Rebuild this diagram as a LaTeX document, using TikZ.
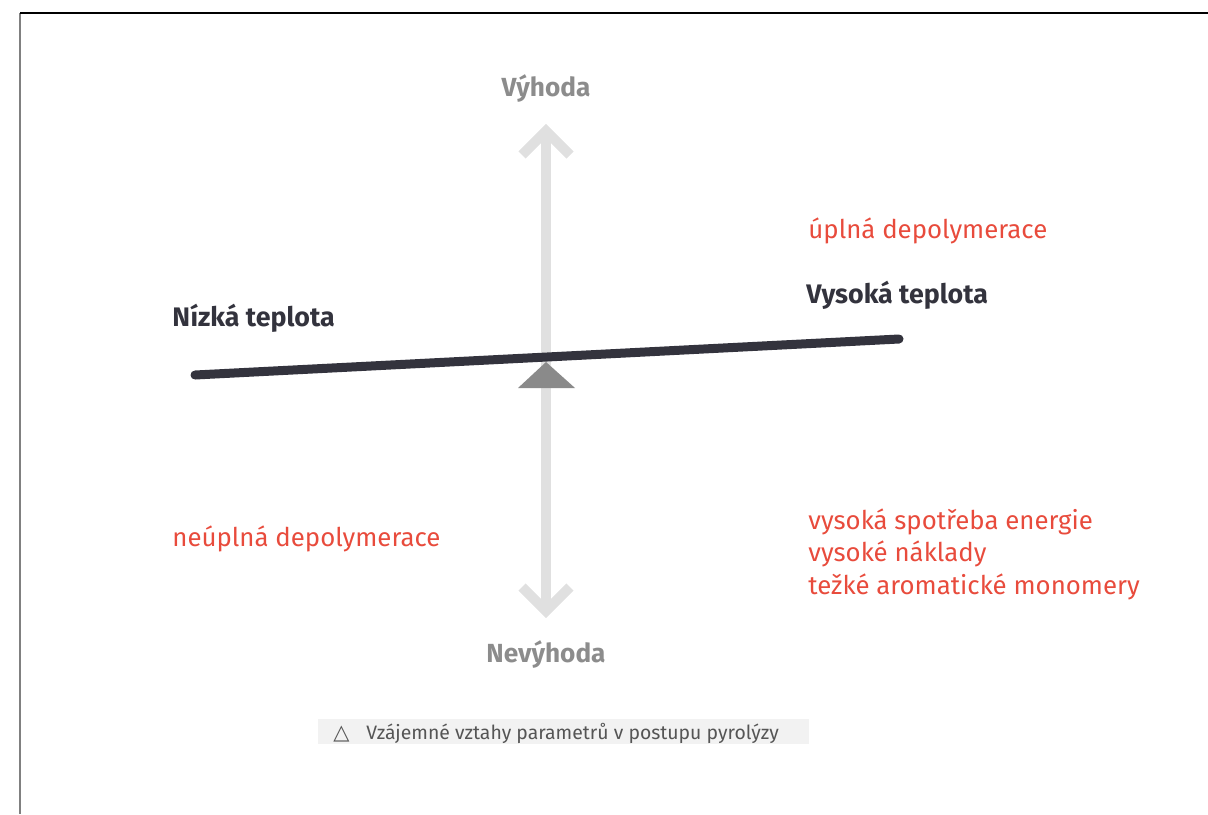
\documentclass[tikz,border=0pt]{standalone}
\usepackage{fontspec}
\setmainfont{Fira Sans}
\newfontfamily\symbolfont{DejaVu Sans}
\definecolor{beamdark}{HTML}{33333D}
\definecolor{axisgray}{HTML}{E0E0E0}
\definecolor{pivotgray}{HTML}{8A8A8A}
\definecolor{labelgray}{HTML}{8C8C8C}
\definecolor{conred}{HTML}{E84B3C}
\definecolor{captiongray}{HTML}{555555}
\definecolor{captionfill}{HTML}{F2F2F2}
\tikzset{
  axis/.style={draw=axisgray, line width=5pt, line join=miter},
  poletext/.style={font=\bfseries\fontsize{13.1}{15}\selectfont, text=labelgray, anchor=base, inner sep=0pt},
  endtext/.style={font=\bfseries\fontsize{13.4}{15}\selectfont, text=beamdark, anchor=base west, inner sep=0pt},
  contra/.style={font=\fontsize{12.9}{15}\selectfont, text=conred, anchor=base west, inner sep=0pt}
}
\begin{document}
\begin{tikzpicture}[x=0.5pt, y=-0.5pt]
\useasboundingbox (0,0) rectangle (1208,814);

\draw [gray, line width=1pt] (20,13) -- (20,814);
\draw [black, line width=1pt] (20,13) -- (1208,13);

\coordinate (top) at (546,131);
\coordinate (bottom) at (546,611);
\coordinate (pivot) at (546,362);
\coordinate (low) at (195,375);
\coordinate (high) at (899,339);

\draw [axis] (top) -- (bottom);
\draw [axis] ([shift={(-24,24)}]top) -- (top) -- ([shift={(24,24)}]top);
\draw [axis] ([shift={(-24,-24)}]bottom) -- (bottom) -- ([shift={(24,-24)}]bottom);

\fill [pivotgray] (pivot) -- (575,388) -- (518,388) -- cycle;
\draw [beamdark, line width=4.5pt, line cap=round] (low) -- (high);

\node [poletext] (vyhoda) at (546,96) {Výhoda};
\node [poletext] (nevyhoda) at (546,662) {Nevýhoda};

\node [endtext] (nizka) at (172,326) {Nízká teplota};
\node [endtext] (vysoka) at (806,303) {Vysoká teplota};

\node [contra] (uplna) at (808,238) {úplná depolymerace};
\node [contra] (neuplna) at (172,546) {neúplná depolymerace};
\foreach \y/\t/\n in {529/vysoká spotřeba energie/a, 561/vysoké náklady/b,
  594/težké aromatické monomery/c}
  \node [contra] (vysoka-\n) at (808,\y) {\t};

\fill [captionfill] (318,719) rectangle (809,744);
\node [font=\symbolfont\fontsize{10.5}{12}\selectfont, text=captiongray, anchor=base west, inner sep=0pt]
  (symbol) at (333,739) {△};
\node [font=\fontsize{9.7}{11}\selectfont, text=captiongray, anchor=base west, inner sep=0pt]
  (caption) at (366,739) {Vzájemné vztahy parametrů v postupu pyrolýzy};
\end{tikzpicture}
\end{document}
